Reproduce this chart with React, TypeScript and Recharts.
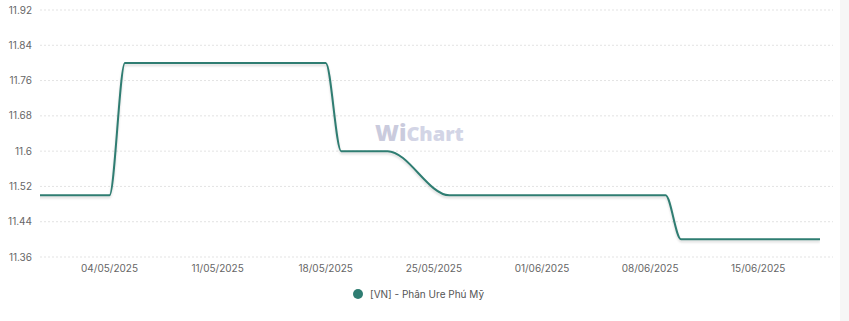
import React from "react";
import { LineChart, Line, XAxis, YAxis, CartesianGrid, Legend } from "recharts";

// Dates (dd/mm/yyyy) and values of "[VN] - Phân Ure Phú Mỹ"
const dates: string[] = [
  "29/04/2025", "30/04/2025", "01/05/2025", "02/05/2025", "03/05/2025", "04/05/2025",
  "05/05/2025", "06/05/2025", "07/05/2025", "08/05/2025", "09/05/2025", "10/05/2025",
  "11/05/2025", "12/05/2025", "13/05/2025", "14/05/2025", "15/05/2025", "16/05/2025",
  "17/05/2025", "18/05/2025",
  "19/05/2025", "20/05/2025", "21/05/2025", "22/05/2025",
  "26/05/2025", "27/05/2025", "28/05/2025", "29/05/2025", "30/05/2025", "31/05/2025",
  "01/06/2025", "02/06/2025", "03/06/2025", "04/06/2025", "05/06/2025", "06/06/2025",
  "07/06/2025", "08/06/2025", "09/06/2025",
  "10/06/2025", "11/06/2025", "12/06/2025", "13/06/2025", "14/06/2025", "15/06/2025",
  "16/06/2025", "17/06/2025", "18/06/2025", "19/06/2025",
];
const prices: number[] = [
  11.5, 11.5, 11.5, 11.5, 11.5, 11.5,
  11.8, 11.8, 11.8, 11.8, 11.8, 11.8,
  11.8, 11.8, 11.8, 11.8, 11.8, 11.8,
  11.8, 11.8,
  11.6, 11.6, 11.6, 11.6,
  11.5, 11.5, 11.5, 11.5, 11.5, 11.5,
  11.5, 11.5, 11.5, 11.5, 11.5, 11.5,
  11.5, 11.5, 11.5,
  11.4, 11.4, 11.4, 11.4, 11.4, 11.4,
  11.4, 11.4, 11.4, 11.4,
];
const xTickLabels: string[] = [
  "04/05/2025", "11/05/2025", "18/05/2025", "25/05/2025",
  "01/06/2025", "08/06/2025", "15/06/2025",
];
const yTicks: number[] = [11.36, 11.44, 11.52, 11.6, 11.68, 11.76, 11.84, 11.92];
const seriesName = "[VN] - Phân Ure Phú Mỹ";

const DAY = 86400000;
const toDay = (s: string) => {
  const [d, m, y] = s.split("/").map(Number);
  return Date.UTC(y, m - 1, d) / DAY;
};
const fmt = (t: number) => {
  const dt = new Date(Math.round(t) * DAY);
  const dd = String(dt.getUTCDate()).padStart(2, "0");
  const mm = String(dt.getUTCMonth() + 1).padStart(2, "0");
  return `${dd}/${mm}/${dt.getUTCFullYear()}`;
};

const data = dates.map((d, i) => ({ t: toDay(d), value: prices[i] }));
const xTicks = xTickLabels.map(toDay);
const base = toDay("04/05/2025");
const last = toDay("19/06/2025");

const COLOR = "#2f7d72";
const FONT = "Inter, 'Noto Sans', sans-serif";

const LegendContent = () => (
  <div
    style={{
      boxSizing: "border-box",
      height: 40,
      paddingTop: 7,
      display: "flex",
      alignItems: "flex-start",
      fontFamily: FONT,
      fontSize: 10,
      color: "#555",
    }}
  >
    <span style={{ width: 10, height: 10, borderRadius: 5, background: COLOR, display: "inline-block", marginRight: 7, marginTop: 1 }} />
    <span style={{ lineHeight: "12px" }}>{seriesName}</span>
  </div>
);

export default function App() {
  return (
    <div style={{ position: "absolute", left: 0, top: 0, width: 849, height: 321, background: "#fff", overflow: "hidden" }}>
      <LineChart
        width={849}
        height={321}
        data={data}
        margin={{ top: 10, right: 16, bottom: 0, left: 0 }}
        style={{ fontFamily: FONT }}
      >
        <CartesianGrid horizontal vertical={false} stroke="#e3e3e3" strokeDasharray="2 2" />
        <XAxis
          dataKey="t"
          type="number"
          domain={[base - 4.5, last]}
          allowDataOverflow
          padding={{ left: 0, right: 13 }}
          ticks={xTicks}
          tickFormatter={fmt}
          axisLine={false}
          tickLine={false}
          height={24}
          tick={{ fill: "#666", fontSize: 10 }}
        />
        <YAxis
          domain={[11.36, 11.92]}
          ticks={yTicks}
          width={40}
          axisLine={false}
          tickLine={false}
          tick={{ fill: "#666", fontSize: 10 }}
        />
        <Legend verticalAlign="bottom" height={40} content={<LegendContent />} wrapperStyle={{ left: 353, width: 140 }} />
        <Line
          type="monotone"
          dataKey="value"
          name={seriesName}
          stroke={COLOR}
          strokeWidth={2}
          dot={false}
          activeDot={false}
          isAnimationActive={false}
          style={{ filter: "drop-shadow(0px 2px 1px rgba(0,0,0,0.15))" }}
        />
      </LineChart>
      <div
        style={{
          position: "absolute",
          left: 375,
          top: 116,
          fontFamily: "'Open Sans', 'Noto Sans', sans-serif",
          fontWeight: 800,
          fontSize: 23,
          color: "#d3d5e6",
          letterSpacing: 0,
          whiteSpace: "nowrap",
          pointerEvents: "none",
        }}
      >
        <span style={{ color: "#cacbdd" }}>Wi</span>
        <span style={{ fontSize: 20 }}>Chart</span>
      </div>
      <div style={{ position: "absolute", right: 0, top: 0, width: 9, height: 321, background: "#f6f6f6" }} />
    </div>
  );
}
